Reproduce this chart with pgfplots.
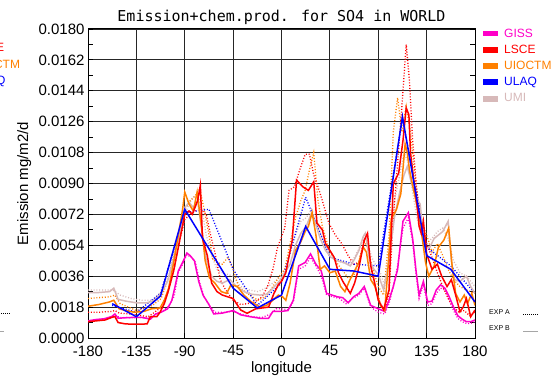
\documentclass[border=0pt]{standalone}
\usepackage{pgfplots}
\pgfplotsset{compat=1.18}
\usepackage{fontspec}
\setmainfont{Liberation Sans}
\newfontfamily\titlefont{DejaVu Sans Mono}
\definecolor{gisscol}{RGB}{255,0,200}
\definecolor{lscecol}{RGB}{255,0,0}
\definecolor{uiocol}{RGB}{255,128,0}
\definecolor{ulaqcol}{RGB}{0,0,255}
\definecolor{umicol}{RGB}{215,185,185}
\tikzset{expA/.style={line width=1.3pt, dash pattern=on 1pt off 1.8pt},
         expB/.style={line width=1.5pt}}
\begin{document}
\begin{tikzpicture}[x=1pt,y=1pt]
\useasboundingbox (0,0) rectangle (557,383);
\begin{axis}[
  at={(88pt,45pt)}, anchor=south west,
  width=387pt, height=309pt, scale only axis,
  xmin=-180, xmax=180, ymin=0, ymax=0.018,
  xtick={-180,-135,-90,-45,0,45,90,135,180},
  ytick={0,0.0018,0.0036,0.0054,0.0072,0.009,0.0108,0.0126,0.0144,0.0162,0.018},
  minor ytick={0.0009,0.0027,0.0045,0.0063,0.0081,0.0099,0.0117,0.0135,0.0153,0.0171},
  xtick pos=bottom, ytick pos=both,
  tick align=inside,
  major tick length=5pt, minor tick length=5pt,
  grid=major,
  major grid style={draw=black!85, line width=0.9pt},
  axis line style={line width=1pt},
  tick style={black, line width=0.8pt},
  scaled y ticks=false,
  yticklabel style={/pgf/number format/fixed, /pgf/number format/fixed zerofill, /pgf/number format/precision=4},
  /pgf/number format/assume math mode=true,
  ticklabel style={font=\fontsize{15}{15}\selectfont},
  xticklabel style={yshift=-4pt},
  every axis plot/.append style={no markers},
]
% ---- EXP A (dotted) ----
\addplot[umicol, expA] coordinates {(-180,0.0028)(-165,0.0028)(-157,0.0028)(-150,0.0025)(-140,0.0023)(-130,0.0022)(-120,0.0022)(-112,0.0027)(-105,0.0036)(-100,0.0050)(-95,0.0062)(-90,0.0072)(-86,0.0078)(-82,0.0082)(-78,0.0083)(-74,0.0075)(-70,0.0060)(-65,0.0048)(-60,0.0040)(-55,0.0038)(-50,0.0037)(-45,0.0036)(-38,0.0030)(-30,0.0028)(-22,0.0027)(-15,0.0029)(-8,0.0032)(-2,0.0035)(3,0.0040)(8,0.0050)(13,0.0060)(18,0.0068)(23,0.0070)(28,0.0075)(33,0.0068)(38,0.0058)(44,0.0050)(50,0.0046)(56,0.0044)(62,0.0043)(67,0.0046)(72,0.0052)(77,0.0060)(80,0.0055)(84,0.0047)(88,0.0042)(92,0.0038)(96,0.0030)(100,0.0050)(105,0.0080)(110,0.0095)(114,0.0108)(118,0.0102)(122,0.0085)(126,0.0070)(130,0.0060)(135,0.0055)(140,0.0058)(145,0.0062)(150,0.0064)(155,0.0058)(160,0.0045)(166,0.0038)(172,0.0036)(180,0.0030)};
\addplot[gisscol, expA] coordinates {(-180,0.00095)(-170,0.00105)(-160,0.00115)(-155,0.00130)(-150,0.00120)(-140,0.00118)(-130,0.00120)(-122,0.00115)(-116,0.00145)(-110,0.00160)(-105,0.00185)(-100,0.00240)(-96,0.00380)(-92,0.00430)(-88,0.00485)(-84,0.00470)(-80,0.00440)(-76,0.00320)(-72,0.00240)(-67,0.00190)(-62,0.00150)(-52,0.00150)(-45,0.00155)(-38,0.00140)(-28,0.00125)(-18,0.00120)(-10,0.00140)(-5,0.00170)(0,0.00170)(6,0.00165)(11,0.00210)(16,0.00400)(22,0.00420)(27,0.00470)(32,0.00420)(37,0.00360)(42,0.00250)(48,0.00240)(54,0.00230)(60,0.00200)(66,0.00230)(72,0.00250)(77,0.00290)(83,0.00180)(90,0.00150)(96,0.00140)(100,0.00200)(104,0.00300)(108,0.00420)(113,0.00640)(118,0.00700)(122,0.00560)(125,0.00380)(128,0.00230)(132,0.00310)(136,0.00190)(140,0.00200)(144,0.00260)(148,0.00290)(152,0.00280)(156,0.00220)(160,0.00160)(164,0.00115)(168,0.00095)(172,0.00085)(176,0.00085)(180,0.00095)};
\addplot[uiocol, expA] coordinates {(-180,0.0023)(-160,0.0024)(-155,0.0025)(-150,0.0020)(-135,0.0016)(-120,0.0019)(-112,0.0023)(-105,0.0035)(-100,0.0048)(-95,0.0060)(-90,0.0075)(-85,0.0080)(-80,0.0083)(-76,0.0087)(-72,0.0075)(-68,0.0062)(-64,0.0046)(-60,0.0044)(-55,0.0043)(-50,0.0047)(-46,0.0042)(-40,0.0030)(-32,0.0026)(-22,0.0022)(-15,0.0024)(-8,0.0030)(-2,0.0036)(3,0.0040)(8,0.0055)(13,0.0070)(18,0.0080)(22,0.0086)(26,0.0098)(30,0.0108)(34,0.0080)(38,0.0065)(44,0.0052)(50,0.0045)(56,0.0040)(62,0.0035)(67,0.0036)(72,0.0045)(77,0.0056)(80,0.0053)(85,0.0040)(90,0.0030)(95,0.0025)(100,0.0060)(104,0.0120)(108,0.0140)(112,0.0120)(116,0.0135)(120,0.0120)(124,0.0095)(128,0.0075)(132,0.0065)(136,0.0058)(140,0.0050)(145,0.0055)(150,0.0048)(155,0.0040)(160,0.0034)(166,0.0030)(172,0.0028)(180,0.0026)};
\addplot[lscecol, expA] coordinates {(-180,0.00150)(-170,0.00150)(-158,0.00155)(-155,0.00160)(-151,0.00145)(-140,0.00140)(-130,0.00130)(-124,0.00124)(-118,0.00150)(-112,0.00180)(-106,0.00260)(-100,0.00400)(-95,0.00560)(-90,0.00690)(-85,0.00720)(-80,0.00740)(-75,0.00750)(-70,0.00720)(-66,0.00600)(-62,0.00500)(-57,0.00340)(-52,0.00280)(-45,0.00220)(-38,0.00195)(-32,0.00200)(-25,0.00210)(-18,0.00240)(-13,0.00300)(-8,0.00400)(-4,0.00520)(0,0.00590)(3,0.00640)(7,0.00860)(12,0.00880)(17,0.00980)(22,0.01070)(26,0.01070)(30,0.00950)(34,0.00880)(38,0.00800)(44,0.00670)(50,0.00600)(56,0.00550)(62,0.00480)(67,0.00430)(72,0.00440)(77,0.00580)(80,0.00560)(84,0.00380)(88,0.00280)(92,0.00200)(96,0.00160)(100,0.00260)(104,0.00700)(108,0.01020)(112,0.01350)(116,0.01710)(119,0.01500)(122,0.01150)(126,0.00850)(130,0.00700)(135,0.00550)(140,0.00470)(145,0.00380)(150,0.00300)(155,0.00230)(160,0.00180)(165,0.00150)(170,0.00160)(175,0.00130)(180,0.00150)};
\addplot[ulaqcol, expA] coordinates {(-157.5,0.0019)(-135,0.0015)(-112.5,0.0026)(-90,0.0073)(-67.5,0.0075)(-45,0.0040)(-22.5,0.0019)(0,0.0032)(22.5,0.0082)(45,0.0047)(67.5,0.0043)(90,0.0042)(112.5,0.0128)(135,0.0053)(157.5,0.0042)(180,0.0026)};
% ---- EXP B (solid) ----
\addplot[umicol, expB] coordinates {(-180,0.00265)(-170,0.00265)(-160,0.00270)(-156,0.00290)(-152,0.00225)(-145,0.00215)(-135,0.00205)(-125,0.00205)(-118,0.00220)(-112,0.00260)(-106,0.00330)(-100,0.00470)(-95,0.00600)(-90,0.00760)(-86,0.00790)(-82,0.00760)(-78,0.00800)(-74,0.00620)(-70,0.00460)(-65,0.00360)(-60,0.00330)(-55,0.00320)(-48,0.00340)(-42,0.00300)(-35,0.00270)(-28,0.00255)(-20,0.00250)(-14,0.00255)(-8,0.00290)(-2,0.00330)(3,0.00380)(8,0.00430)(13,0.00540)(18,0.00610)(23,0.00650)(28,0.00730)(32,0.00660)(36,0.00580)(41,0.00510)(46,0.00470)(52,0.00450)(58,0.00440)(64,0.00420)(68,0.00460)(72,0.00510)(76,0.00590)(78,0.00610)(82,0.00450)(86,0.00400)(90,0.00370)(95,0.00280)(100,0.00450)(105,0.00700)(110,0.00850)(114,0.00950)(117,0.01000)(121,0.00900)(125,0.00820)(129,0.00780)(133,0.00520)(138,0.00530)(142,0.00580)(146,0.00600)(150,0.00620)(155,0.00680)(158,0.00450)(161,0.00340)(166,0.00330)(172,0.00360)(176,0.00300)(180,0.00260)};
\addplot[gisscol, expB] coordinates {(-180,0.00100)(-172,0.00108)(-165,0.00112)(-158,0.00125)(-155,0.00140)(-152,0.00115)(-145,0.00118)(-138,0.00120)(-130,0.00120)(-122,0.00110)(-117,0.00140)(-112,0.00150)(-106,0.00170)(-102,0.00220)(-99,0.00300)(-96,0.00390)(-92,0.00440)(-88,0.00495)(-85,0.00480)(-81,0.00450)(-77,0.00330)(-73,0.00250)(-68,0.00200)(-63,0.00140)(-55,0.00145)(-45,0.00160)(-38,0.00135)(-30,0.00125)(-20,0.00115)(-12,0.00115)(-8,0.00155)(0,0.00155)(6,0.00160)(11,0.00220)(16,0.00420)(22,0.00440)(27,0.00490)(32,0.00430)(37,0.00390)(42,0.00260)(47,0.00250)(52,0.00240)(57,0.00235)(62,0.00205)(67,0.00240)(72,0.00260)(77,0.00300)(83,0.00190)(90,0.00170)(96,0.00155)(100,0.00220)(104,0.00300)(108,0.00400)(113,0.00680)(118,0.00730)(122,0.00580)(125,0.00400)(128,0.00250)(132,0.00330)(136,0.00210)(140,0.00215)(144,0.00280)(148,0.00310)(152,0.00290)(156,0.00240)(160,0.00180)(164,0.00130)(168,0.00110)(172,0.00095)(176,0.00095)(180,0.00105)};
\addplot[uiocol, expB] coordinates {(-180,0.00185)(-170,0.00195)(-160,0.00210)(-156,0.00220)(-151,0.00170)(-145,0.00160)(-137,0.00150)(-128,0.00155)(-121,0.00170)(-113,0.00175)(-109,0.00220)(-105,0.00290)(-100,0.00450)(-96,0.00600)(-92,0.00750)(-90,0.00850)(-86,0.00780)(-82,0.00740)(-78.5,0.00850)(-74,0.00630)(-71,0.00450)(-67,0.00350)(-62,0.00320)(-56,0.00270)(-51,0.00260)(-47,0.00310)(-41,0.00300)(-35,0.00250)(-28,0.00210)(-20,0.00180)(-14,0.00190)(-8,0.00220)(-3,0.00250)(1,0.00240)(4,0.00220)(8,0.00320)(13,0.00510)(18,0.00560)(22,0.00620)(25,0.00650)(28.5,0.00730)(32,0.00600)(36,0.00400)(40,0.00420)(45,0.00380)(50,0.00390)(55,0.00300)(59,0.00270)(63,0.00330)(67,0.00380)(72,0.00440)(76,0.00530)(79,0.00500)(83,0.00340)(87,0.00300)(92,0.00190)(96,0.00160)(99,0.00400)(102,0.00690)(107,0.00750)(111,0.00840)(115,0.01130)(117,0.01080)(119,0.00980)(121,0.00920)(125,0.00800)(129,0.00670)(134,0.00440)(137,0.00360)(142,0.00420)(146,0.00530)(151,0.00570)(155.5,0.00640)(159,0.00400)(162,0.00260)(166,0.00210)(170,0.00250)(173,0.00200)(177,0.00260)(180,0.00190)};
\addplot[lscecol, expB] coordinates {(-180,0.00095)(-172,0.00100)(-164,0.00105)(-158,0.00120)(-155,0.00125)(-152,0.00090)(-145,0.00082)(-135,0.00080)(-125,0.00082)(-122,0.00124)(-116,0.00124)(-113,0.00150)(-109,0.00200)(-105,0.00280)(-100,0.00400)(-95,0.00560)(-90,0.00720)(-86,0.00740)(-83,0.00720)(-78,0.00800)(-75.5,0.00890)(-73.5,0.00580)(-69,0.00480)(-65,0.00320)(-60,0.00270)(-55,0.00250)(-45,0.00230)(-38,0.00163)(-32,0.00144)(-24,0.00170)(-18,0.00175)(-12,0.00180)(-7,0.00260)(-3,0.00310)(0,0.00330)(4,0.00380)(10,0.00570)(14,0.00920)(20,0.00880)(25,0.00860)(30,0.00910)(33,0.00670)(38,0.00630)(41,0.00550)(45,0.00510)(49,0.00470)(53,0.00380)(57,0.00330)(61,0.00290)(64,0.00260)(68,0.00320)(72,0.00410)(77,0.00570)(80,0.00610)(83,0.00420)(86,0.00340)(90,0.00220)(95,0.00165)(100,0.00280)(104,0.00900)(109,0.00960)(113,0.01150)(116,0.01340)(118.5,0.01300)(120,0.01080)(123,0.00920)(126,0.00780)(128,0.00650)(130,0.00610)(132,0.00680)(135,0.00490)(140,0.00400)(145,0.00430)(149,0.00360)(154,0.00300)(158,0.00340)(162,0.00250)(166,0.00153)(169,0.00180)(172,0.00230)(176,0.00124)(180,0.00163)};
\addplot[ulaqcol, expB] coordinates {(-157.5,0.00200)(-135,0.00124)(-112.5,0.00245)(-90,0.00750)(-67.5,0.00520)(-45,0.00290)(-22.5,0.00175)(0,0.00250)(22.5,0.00650)(45,0.00400)(67.5,0.00390)(90,0.00360)(112.5,0.01290)(135,0.00480)(157.5,0.00400)(180,0.00210)};
\end{axis}
% title and labels
\node[anchor=base, inner sep=0, font=\titlefont\fontsize{15}{15}\selectfont] at (281.5,361.5) {Emission+chem.prod. for SO4 in WORLD};
\node[anchor=base, inner sep=0, font=\fontsize{15}{15}\selectfont] at (281.5,10) {longitude};
\node[rotate=90, anchor=base, inner sep=0, font=\fontsize{15}{15}\selectfont] at (28,199.5) {Emission mg/m2/d};
% legend
\fill[gisscol] (483,347) rectangle (498,352.3);
\fill[lscecol] (483,330.3) rectangle (498,335.7);
\fill[uiocol] (483,314) rectangle (498,319.7);
\fill[ulaqcol] (483,298) rectangle (498,303.7);
\fill[umicol] (483,281.3) rectangle (498,287);
\begin{scope}[every node/.style={anchor=base west, inner sep=0, font=\fontsize{12}{12}\selectfont}]
\node[text=gisscol] at (504,345.3) {GISS};
\node[text=lscecol] at (504,329) {LSCE};
\node[text=uiocol] at (504,313) {UIOCTM};
\node[text=ulaqcol] at (504,297) {ULAQ};
\node[text=umicol] at (504,281.3) {UMI};
% cut-off legend of neighbouring panel
\node[text=lscecol] at (-27.5,331) {LSCE};
\node[text=uiocol] at (-27.5,314) {UIOCTM};
\node[text=ulaqcol] at (-27.5,298) {ULAQ};
\end{scope}
\node[anchor=base west, inner sep=0, font=\fontsize{7}{7}\selectfont] at (489,68) {EXP A};
\node[anchor=base west, inner sep=0, font=\fontsize{7}{7}\selectfont] at (489,52.3) {EXP B};
\draw[black, line width=0.6pt, dash pattern=on 0.8pt off 1.2pt] (523,68.5) -- (538,68.5);
\draw[black!35, line width=1pt] (523,51.3) -- (538,51.3);
\draw[black, line width=0.6pt, dash pattern=on 0.8pt off 1.2pt] (-5,69.5) -- (10,69.5);
\draw[black!35, line width=1pt] (-5,51.3) -- (4,51.3);
\end{tikzpicture}
\end{document}
